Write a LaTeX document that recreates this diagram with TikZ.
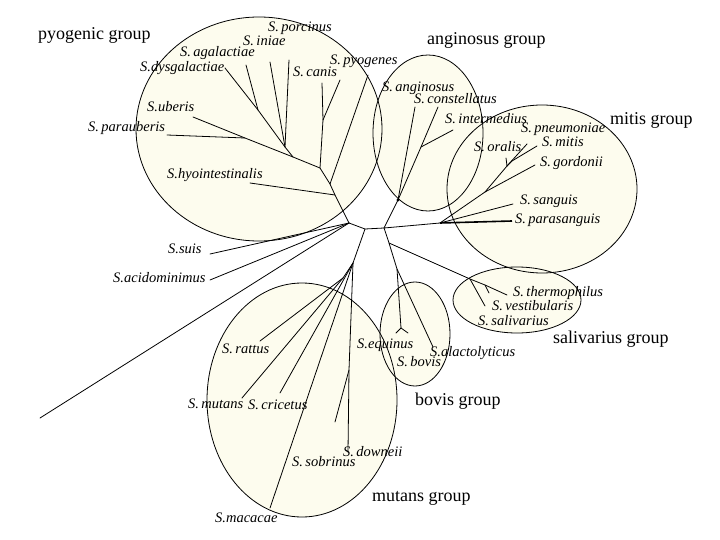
\documentclass[tikz,border=0pt]{standalone}
\usepackage{fontspec}
\setmainfont{Liberation Serif}
\definecolor{cream}{RGB}{253,252,238}
\begin{document}
\begin{tikzpicture}[x=1pt,y=-1pt,
  tree/.style={line width=0.8pt,line cap=round},
  grpfill/.style={fill=cream},
  grpline/.style={draw=black,line width=0.8pt},
  sp/.style={font=\fontsize{14.5}{15}\selectfont\itshape,inner sep=0pt,anchor=base west},
  glab/.style={font=\fontsize{18}{20}\selectfont,inner sep=0pt,anchor=base west}]
\useasboundingbox (0,0) rectangle (720,540);
\fill[white] (0,0) rectangle (720,540);
% group ellipses: fills first, then outlines
\foreach \c/\rx/\ry in {{(259,129)}/123/112,{(428,133)}/55/78,{(542,189)}/95/84,{(517,300)}/64/33,{(415,334)}/35/52,{(302,400)}/95/117}{
  \path[grpfill] \c ellipse [x radius=\rx pt,y radius=\ry pt];
}
\foreach \c/\rx/\ry in {{(259,129)}/123/112,{(428,133)}/55/78,{(542,189)}/95/84,{(517,300)}/64/33,{(415,334)}/35/52,{(302,400)}/95/117}{
  \path[grpline] \c ellipse [x radius=\rx pt,y radius=\ry pt];
}
% internal nodes
\coordinate (A) at (349,223);
\coordinate (B) at (365,229);
\coordinate (C) at (384,228);
\coordinate (D) at (440,223);
\coordinate (P1) at (335,195);
\coordinate (Ppy) at (330,184);
\coordinate (P2) at (320,168);
\coordinate (P3) at (323,120);
\coordinate (P4) at (293,157);
\coordinate (P5) at (245,138);
\coordinate (P6) at (285,147);
\coordinate (P7) at (258,110);
\coordinate (G1) at (398,200);
\coordinate (G2) at (421,147);
\coordinate (Ma) at (485,192);
\coordinate (Mb) at (507,166);
\coordinate (Mc) at (512,161);
\coordinate (C2) at (389,243);
\coordinate (S1) at (470,279);
\coordinate (S2) at (485,285);
\coordinate (V1) at (397,269);
\coordinate (V2) at (401,328);
\coordinate (M1) at (353,263);
\coordinate (M2) at (343,278);
\coordinate (M3) at (349,370);
% leaf ends
\coordinate (eHyo) at (250,183);
\coordinate (ePyo) at (368,75);
\coordinate (eCan1) at (322,83);
\coordinate (eCan2) at (340,80);
\coordinate (eUbe) at (193,117);
\coordinate (ePar) at (167,135);
\coordinate (eDys) at (225,68);
\coordinate (eAga) at (246,65);
\coordinate (eIni) at (270,62);
\coordinate (ePor) at (289,60);
\coordinate (eAng) at (415,107);
\coordinate (eCon) at (438,107);
\coordinate (eInt) at (453,130);
\coordinate (ePsa) at (512,221);
\coordinate (eSan) at (513,204);
\coordinate (eGor) at (535,165);
\coordinate (eOra) at (506,158);
\coordinate (ePne) at (527,144);
\coordinate (eMit) at (537,146);
\coordinate (eThe) at (507,295);
\coordinate (eSal) at (485,306);
\coordinate (eSpur) at (489,293);
\coordinate (eBov1) at (396,333);
\coordinate (eBov2) at (408,333);
\coordinate (eAla) at (433,347);
\coordinate (eRat) at (260,341);
\coordinate (eMut) at (242,398);
\coordinate (eCri) at (280,393);
\coordinate (eMac) at (270,508);
\coordinate (eDow) at (348,452);
\coordinate (eSob) at (335,422);
\coordinate (eFar) at (40,418);
\coordinate (eSui) at (210,254);
\coordinate (eAci) at (210,280);
% branches
\draw[tree] (A) -- (B) -- (C) -- (D);
\draw[tree] (A) -- (P1) -- (Ppy) -- (P2);
\draw[tree] (P1) -- (eHyo);
\draw[tree] (Ppy) -- (ePyo);
\draw[tree] (P2) -- (P3);
\draw[tree] (P3) -- (eCan1);
\draw[tree] (P3) -- (eCan2);
\draw[tree] (P2) -- (P4) -- (P5) -- (eUbe);
\draw[tree] (P5) -- (ePar);
\draw[tree] (P4) -- (P6) -- (P7) -- (eDys);
\draw[tree] (P7) -- (eAga);
\draw[tree] (P6) -- (eIni);
\draw[tree] (P6) -- (ePor);
\draw[tree] (C) -- (G1) -- (eAng);
\draw[tree] (G1) -- (G2) -- (eCon);
\draw[tree] (G2) -- (eInt);
\fill (G1) circle (1.6pt);
\draw[line width=1.6pt] (D) -- (ePsa);
\draw[tree] (D) -- (eSan);
\draw[tree] (D) -- (Ma) -- (eGor);
\draw[tree] (Ma) -- (Mb) -- (eOra);
\draw[tree] (Mb) -- (ePne);
\draw[tree] (Mb) -- (Mc) -- (eMit);
\draw[tree] (C) -- (C2) -- (V1) -- (V2);
\draw[tree] (V2) -- (eBov1);
\draw[tree] (V2) -- (eBov2);
\draw[tree] (V1) -- (eAla);
\draw[tree] (C2) -- (S1) -- (S2) -- (eThe);
\draw[tree] (S1) -- (eSal);
\draw[tree] (S2) -- (eSpur);
\draw[tree] (B) -- (M1) -- (M2) -- (eRat);
\draw[tree] (M2) -- (eMut);
\draw[tree] (M1) -- (eCri);
\draw[tree] (M1) -- (eMac);
\draw[tree] (M1) -- (M3) -- (eDow);
\draw[tree] (M3) -- (eSob);
\draw[tree] (A) -- (eFar);
\draw[tree] (A) -- (eSui);
\draw[tree] (A) -- (eAci);
% species labels
\node[sp] (lPor) at (268,32) {S.\,porcinus};
\node[sp] (lIni) at (243,46) {S.\,iniae};
\node[sp] (lAga) at (180,57) {S.\,agalactiae};
\node[sp] (lDys) at (140,72) {S.dysgalactiae};
\node[sp] (lPyo) at (330,65) {S.\,pyogenes};
\node[sp] (lCan) at (293,77) {S.\,canis};
\node[sp] (lUbe) at (147,112) {S.uberis};
\node[sp] (lPar) at (88,132) {S.\,parauberis};
\node[sp] (lHyo) at (167,179) {S.hyointestinalis};
\node[sp] (lAng) at (382,92) {S.\,anginosus};
\node[sp] (lCon) at (414,104) {S.\,constellatus};
\node[sp] (lInt) at (445,124) {S.\,intermedius};
\node[sp] (lPne) at (521,133) {S.\,pneumoniae};
\node[sp] (lMit) at (542,147) {S.\,mitis};
\node[sp] (lOra) at (474,152) {S.\,oralis};
\node[sp] (lGor) at (540,167) {S.\,gordonii};
\node[sp] (lSan) at (520,205) {S.\,sanguis};
\node[sp] (lPsa) at (515,224) {S.\,parasanguis};
\node[sp] (lSui) at (168,254) {S.suis};
\node[sp] (lAci) at (113,282) {S.acidominimus};
\node[sp] (lThe) at (513,296) {S.\,thermophilus};
\node[sp] (lVes) at (492,310) {S.\,vestibularis};
\node[sp] (lSal) at (478,325) {S.\,salivarius};
\node[sp] (lEqu) at (357,348) {S.equinus};
\node[sp] (lBov) at (397,366) {S.\,bovis};
\node[sp] (lAla) at (430,356) {S.alactolyticus};
\node[sp] (lRat) at (222,353) {S.\,rattus};
\node[sp] (lMut) at (188,408) {S.\,mutans};
\node[sp] (lCri) at (248,409) {S.\,cricetus};
\node[sp] (lSob) at (292,466) {S.\,sobrinus};
\node[sp] (lDow) at (343,456) {S.\,downeii};
\node[sp] (lMac) at (215,522) {S.macacae};
% group labels
\node[glab] (gPyo) at (38,40) {pyogenic group};
\node[glab] (gAng) at (427,45) {anginosus group};
\node[glab] (gMit) at (610,125) {mitis group};
\node[glab] (gSal) at (553,343) {salivarius group};
\node[glab] (gBov) at (415,405) {bovis group};
\node[glab] (gMut) at (372,501) {mutans group};
\end{tikzpicture}
\end{document}
